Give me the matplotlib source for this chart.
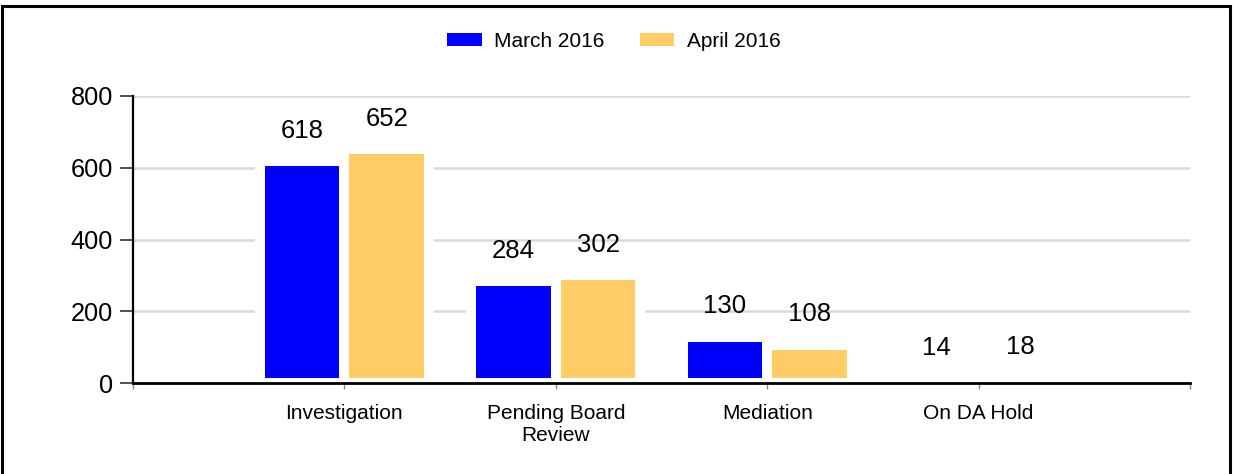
import numpy as np
import matplotlib
matplotlib.use("Agg")
import matplotlib.pyplot as plt
from matplotlib.patches import Rectangle

categories = ["Investigation", "Pending Board\nReview", "Mediation", "On DA Hold"]
march_2016 = [618, 284, 130, 14]
april_2016 = [652, 302, 108, 18]
series_names = ["March 2016", "April 2016"]
colors = ["#0000ff", "#ffcc66"]

plt.rcParams['font.family'] = ['Liberation Sans', 'DejaVu Sans']

fig = plt.figure(figsize=(12.33, 4.74), dpi=100)
ax = fig.add_axes([0.1079, 0.1913, 0.8572, 0.6062])

x = np.arange(1, len(categories) + 1)
width = 0.4
for i, (vals, name, col) in enumerate(zip([march_2016, april_2016], series_names, colors)):
    offset = (i - 0.5) * width
    ax.bar(x + offset, vals, width, color=col, edgecolor='white', linewidth=7.2,
           label=name, zorder=2)
    for xi, v in zip(x + offset, vals):
        ax.text(xi, v + 84, str(v), ha='center', va='center', fontsize=18.5, zorder=4)

ax.set_xlim(0, len(categories) + 1)
ax.set_ylim(0, 800)
ax.set_yticks([0, 200, 400, 600, 800])
ax.set_xticks(np.arange(0, len(categories) + 2))
ax.set_xticklabels([""] + categories + [""], fontsize=15, linespacing=1.2)

ax.yaxis.grid(True, color='#d9d9d9', linewidth=1.8, zorder=0)
ax.set_axisbelow(True)
for s in ['top', 'right']:
    ax.spines[s].set_visible(False)
ax.spines['left'].set_linewidth(1.6)
ax.spines['bottom'].set_linewidth(2.0)
ax.spines['left'].set_zorder(5)
ax.spines['bottom'].set_zorder(5)
ax.tick_params(axis='y', labelsize=18.3, length=9.5, width=1.2, color='#333333', pad=5)
ax.tick_params(axis='x', length=4, width=1, color='#888888', pad=11)

handles, labels = ax.get_legend_handles_labels()
leg = fig.legend(handles, labels, loc='center', bbox_to_anchor=(0.498, 0.913), ncol=2,
                 frameon=False, fontsize=15, handlelength=1.65, handleheight=0.6,
                 columnspacing=1.7, handletextpad=0.6)
for p in leg.get_patches():
    p.set_linewidth(0)

# outer frame
fig.patches.append(Rectangle((2 / 1233, -0.1), 1 - 5 / 1233, 1.1 - 6 / 474,
                             transform=fig.transFigure, fill=False,
                             edgecolor='black', linewidth=2.2, zorder=10))

fig.savefig("out.png", dpi=100)
